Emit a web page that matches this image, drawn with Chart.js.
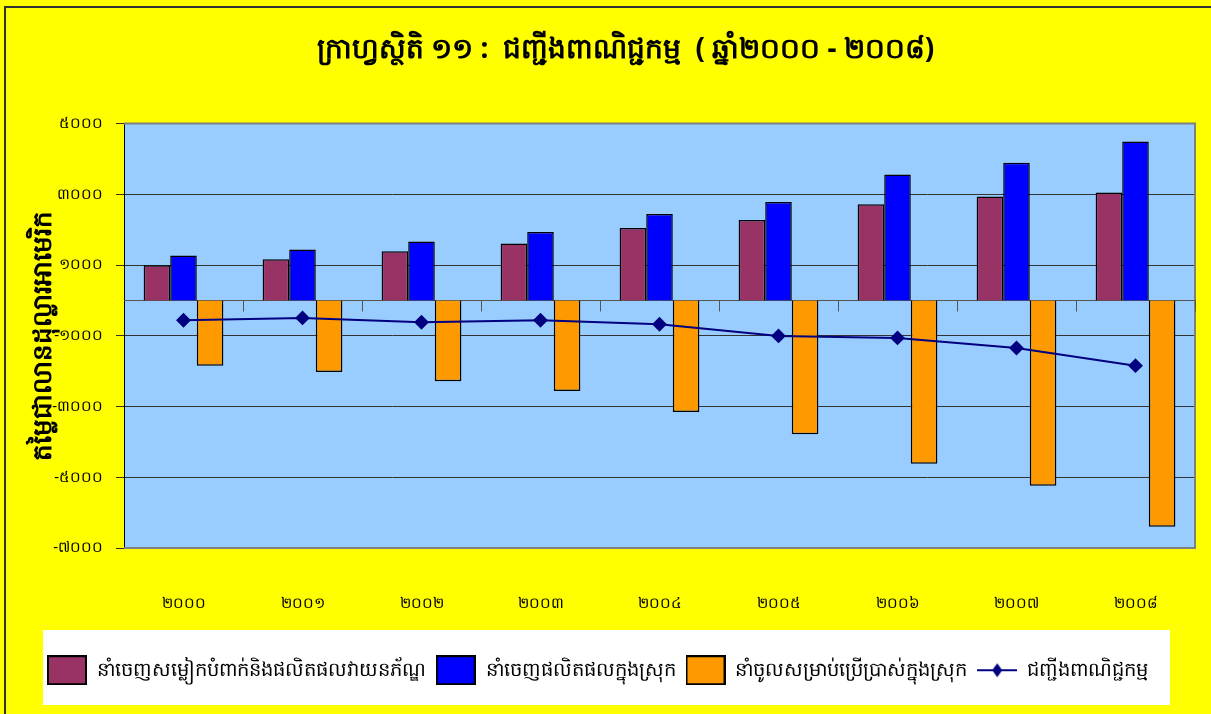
<!DOCTYPE html>
<html>
<head>
<meta charset="utf-8">
<script src="https://cdn.jsdelivr.net/npm/chart.js@4.4.1/dist/chart.umd.min.js"></script>
<style>
  html, body { margin: 0; padding: 0; background: #FFFF00; }
  #wrap { width: 1211px; height: 714px; position: relative; }
</style>
</head>
<body>
<div id="wrap"><canvas id="chart"></canvas></div>
<script>
// ឆ្នាំ
const years = ['២០០០', '២០០១', '២០០២', '២០០៣', '២០០៤', '២០០៥', '២០០៦', '២០០៧', '២០០៨'];

// លានដុល្លារអាមេរិក
const garmentExports = [996, 1165, 1391, 1608, 2051, 2277, 2721, 2936, 3050];
const domesticExports = [1268, 1437, 1664, 1938, 2447, 2786, 3559, 3890, 4492];
const retainedImports = [-1844, -2023, -2286, -2560, -3154, -3786, -4617, -5239, -6399];
const tradeBalance = [-561, -495, -617, -561, -674, -1004, -1061, -1344, -1844];

const seriesNames = [
    'នាំចេញសម្លៀកបំពាក់និងផលិតផលវាយនភ័ណ្ឌ',
    'នាំចេញផលិតផលក្នុងស្រុក',
    'នាំចូលសម្រាប់ប្រើប្រាស់ក្នុងស្រុក',
    'ជញ្ជីងពាណិជ្ជកម្ម'
];

const yMin = -7000;
const yMax = 5000;
const yStep = 2000;

const khmerDigits = ['០', '១', '២', '៣', '៤', '៥', '៦', '៧', '៨', '៩'];
const toKhmer = v => String(v).replace(/\d/g, d => khmerDigits[d]);

// legend swatches
function makeSwatch(fill) {
    const c = document.createElement('canvas');
    c.width = 40; c.height = 30;
    const g = c.getContext('2d');
    g.fillStyle = fill;
    g.fillRect(0, 0, 40, 30);
    g.strokeStyle = '#000';
    g.lineWidth = 2;
    g.strokeRect(1, 1, 38, 28);
    return c;
}
function makeLineMark(color) {
    const c = document.createElement('canvas');
    c.width = 40; c.height = 16;
    const g = c.getContext('2d');
    g.strokeStyle = color;
    g.lineWidth = 2;
    g.beginPath(); g.moveTo(0, 8); g.lineTo(40, 8); g.stroke();
    g.fillStyle = color;
    g.beginPath();
    g.moveTo(20, 1); g.lineTo(25, 8); g.lineTo(20, 15); g.lineTo(15, 8);
    g.closePath(); g.fill();
    return c;
}

const colors = ['#993366', '#0000FF', '#FF9900', '#000080'];
const legendMarks = [makeSwatch(colors[0]), makeSwatch(colors[1]), makeSwatch(colors[2]), makeLineMark(colors[3])];

// ផ្ទៃខាងក្រោយ
const backdrop = {
    id: 'backdrop',
    beforeDraw(chart) {
        const {ctx, width, height, chartArea: a} = chart;
        ctx.save();
        ctx.fillStyle = '#FFFF00';
        ctx.fillRect(0, 0, width, height);
        ctx.strokeStyle = '#333';
        ctx.lineWidth = 2;
        ctx.beginPath();
        ctx.moveTo(5, height); ctx.lineTo(5, 7); ctx.lineTo(width, 7);
        ctx.stroke();
        ctx.fillStyle = '#99CCFF';
        ctx.fillRect(a.left, a.top, a.right - a.left, a.bottom - a.top);
        // legend panel
        const lg = chart.legend;
        ctx.fillStyle = '#FFFFFF';
        ctx.fillRect(43, Math.round(lg.top) - 21, 1127, 75);
        ctx.restore();
    },
    beforeDatasetsDraw(chart) {
        const {ctx, chartArea: a, scales: {x, y}} = chart;
        const y0 = Math.round(y.getPixelForValue(0)) + 0.5;
        ctx.save();
        ctx.strokeStyle = '#808080';
        ctx.lineWidth = 2;
        ctx.beginPath();
        ctx.moveTo(a.left, a.top); ctx.lineTo(a.right, a.top);
        ctx.lineTo(a.right, a.bottom); ctx.lineTo(a.left, a.bottom);
        ctx.stroke();
        ctx.strokeStyle = '#555';
        ctx.lineWidth = 1;
        ctx.beginPath();
        ctx.moveTo(a.left, y0); ctx.lineTo(a.right, y0);
        const step = (a.right - a.left) / years.length;
        for (let i = 1; i <= years.length; i++) {
            const px = Math.round(x.getPixelForValue(i - 1) + step / 2) + 0.5;
            ctx.moveTo(px, y0); ctx.lineTo(px, y0 + 11);
        }
        ctx.stroke();
        ctx.restore();
    }
};

new Chart(document.getElementById('chart'), {
    type: 'bar',
    data: {
        labels: years,
        datasets: [
            {
                label: seriesNames[0],
                data: garmentExports,
                backgroundColor: colors[0],
                borderColor: '#000',
                borderWidth: 1.5
            },
            {
                label: seriesNames[1],
                data: domesticExports,
                backgroundColor: colors[1],
                borderColor: '#000',
                borderWidth: 1.5
            },
            {
                label: seriesNames[2],
                data: retainedImports,
                backgroundColor: colors[2],
                borderColor: '#000',
                borderWidth: 1.5
            },
            {
                type: 'line',
                label: seriesNames[3],
                data: tradeBalance,
                order: -1,
                borderColor: colors[3],
                backgroundColor: colors[3],
                borderWidth: 2,
                pointStyle: 'rectRot',
                pointRadius: 6,
                pointHoverRadius: 7,
                tension: 0
            }
        ]
    },
    options: {
        responsive: true,
        maintainAspectRatio: false,
        animation: false,
        datasets: {
            bar: {
                categoryPercentage: 0.67,
                barPercentage: 1.0
            }
        },
        layout: {
            padding: {left: 0, right: 16, top: 0, bottom: 24}
        },
        plugins: {
            title: {
                display: true,
                text: '\u2003\u2003ក្រាហ្វស្ថិតិ ១១ :  ជញ្ជីងពាណិជ្ជកម្ម  ( ឆ្នាំ២០០០ - ២០០៨)',
                color: '#000',
                font: {size: 28, weight: 'bold', family: 'Noto Sans'},
                padding: {top: 33, bottom: 57}
            },
            legend: {
                position: 'bottom',
                labels: {
                    color: '#000',
                    font: {size: 19.5, family: 'Noto Sans'},
                    usePointStyle: true,
                    pointStyleWidth: 40,
                    boxHeight: 30,
                    padding: 10,
                    generateLabels: (chart) => chart.data.datasets.map((ds, i) => ({
                        text: ds.label,
                        pointStyle: legendMarks[i],
                        fillStyle: colors[i],
                        strokeStyle: '#000',
                        lineWidth: 0,
                        fontColor: '#000',
                        hidden: !chart.isDatasetVisible(i),
                        datasetIndex: i
                    }))
                }
            },
            tooltip: {
                callbacks: {
                    label: (context) => `${context.dataset.label}: ${toKhmer(context.raw)}`
                }
            }
        },
        scales: {
            x: {
                grid: {display: false, drawTicks: false},
                border: {display: false},
                ticks: {
                    color: '#000',
                    font: {size: 15, family: 'Noto Sans'},
                    padding: 47
                },
                afterFit: (scale) => { scale.height = 102.5; }
            },
            y: {
                min: yMin,
                max: yMax,
                grid: {
                    color: '#333',
                    lineWidth: 1,
                    tickLength: 8
                },
                border: {color: '#000', width: 1},
                ticks: {
                    stepSize: yStep,
                    color: '#000',
                    font: {size: 15, family: 'Noto Sans'},
                    padding: 13,
                    callback: (value) => toKhmer(value)
                },
                title: {
                    display: true,
                    text: 'តម្លៃជាលានដុល្លារអាមេរិក',
                    color: '#000',
                    font: {size: 26, weight: 'bold', family: 'Noto Sans'},
                    padding: {top: 28, bottom: 0}
                },
                afterFit: (scale) => { scale.width = 124; }
            }
        }
    },
    plugins: [backdrop]
});
</script>
</body>
</html>
